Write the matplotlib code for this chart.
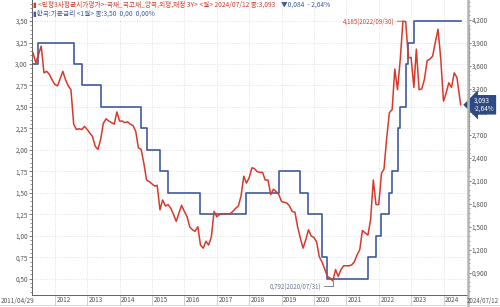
import pandas as pd
import matplotlib.pyplot as plt
import matplotlib.ticker as mticker
from matplotlib.transforms import ScaledTranslation
from matplotlib.lines import Line2D

plt.rcParams['font.family'] = ['Noto Sans CJK KR', 'DejaVu Sans']

RED = '#d63a2c'
BLUE = '#3e5b9c'
TXT = '#555555'

# 3Y KTB, month-end values 2011-04 .. 2024-06, then last print
ktb_3y = [
    3.77, 3.64, 3.75, 3.86, 3.51, 3.53, 3.49, 3.42, 3.36,
    3.34, 3.43, 3.53, 3.42, 3.34, 3.29, 2.84, 2.77, 2.78, 2.77, 2.81, 2.77,
    2.72, 2.68, 2.55, 2.51, 2.64, 2.85, 2.91, 2.88, 2.86, 2.84, 3.00, 2.88,
    2.88, 2.86, 2.87, 2.84, 2.82, 2.75, 2.53, 2.51, 2.33, 2.11, 2.09, 2.06,
    2.03, 2.04, 1.72, 1.85, 1.77, 1.79, 1.74, 1.66, 1.57, 1.68, 1.78, 1.70,
    1.63, 1.50, 1.46, 1.44, 1.50, 1.26, 1.22, 1.31, 1.26, 1.37, 1.70, 1.63,
    1.66, 1.67, 1.67, 1.67, 1.67, 1.70, 1.74, 1.77, 1.90, 2.16, 2.07, 2.14,
    2.27, 2.26, 2.22, 2.21, 2.21, 2.11, 2.11, 1.92, 1.99, 1.96, 1.92, 1.83,
    1.82, 1.81, 1.77, 1.70, 1.69, 1.50, 1.35, 1.22, 1.33, 1.46, 1.38, 1.36,
    1.30, 1.11, 1.04, 0.95, 0.85, 0.83, 0.792, 0.94, 0.85, 0.94, 0.99, 0.99,
    0.99, 1.00, 1.04, 1.13, 1.20, 1.45, 1.42, 1.39, 1.59, 2.11, 1.79, 1.79,
    2.20, 2.25, 2.66, 2.99, 3.03, 3.56, 3.29, 3.69, 4.185, 4.18, 3.71, 3.71,
    3.32, 3.82, 3.29, 3.30, 3.43, 3.67, 3.69, 3.73, 3.91, 4.08, 3.70, 3.14,
    3.25, 3.38, 3.32, 3.51, 3.45, 3.19,
]
ktb_first_month = '2011-04-30'
ktb_last_month = '2024-06-30'
last_date = '2024-07-12'
ktb_last = 3.093
ktb_change_pct = -2.64
ktb_change = -0.084

# BOK base rate (change dates on the monthly grid)
base_dates = ['2011-04-29', '2011-06-30', '2012-07-31', '2012-10-31', '2013-05-31',
              '2014-08-31', '2014-10-31', '2015-03-31', '2015-06-30', '2016-06-30',
              '2017-11-30', '2018-11-30', '2019-07-31', '2019-10-31', '2020-03-31',
              '2020-05-31', '2021-08-31', '2021-11-30', '2022-01-31', '2022-04-30',
              '2022-05-31', '2022-07-31', '2022-08-31', '2022-10-31', '2022-11-30',
              '2023-01-31', '2024-07-12']
base_rate = [3.00, 3.25, 3.00, 2.75, 2.50, 2.25, 2.00, 1.75, 1.50, 1.25,
             1.50, 1.75, 1.50, 1.25, 0.75, 0.50, 0.75, 1.00, 1.25, 1.50,
             1.75, 2.25, 2.50, 3.00, 3.25, 3.50, 3.50]

years = list(range(2012, 2025))
blue_bar_low = 2.25


def comma(v, nd):
    return f'{v:.{nd}f}'.replace('.', ',')


ktb_dates = list(pd.date_range(ktb_first_month, ktb_last_month, freq='ME')) + [pd.Timestamp(last_date)]
ktb_vals = ktb_3y + [ktb_last]
bdates = pd.to_datetime(base_dates)

fig = plt.figure(figsize=(5, 3.07), dpi=100)
ax = fig.add_axes([32 / 500, 1 - 295 / 307, (467.5 - 32) / 500, 295 / 307])
ax2 = ax.twinx()

ax.plot(bdates, base_rate, color=BLUE, lw=1.2, drawstyle='steps-post', zorder=3)
ax2.plot(ktb_dates, ktb_vals, color=RED, lw=1.1, zorder=3)

ax.set_xlim(pd.Timestamp('2011-04-18'), pd.Timestamp('2024-09-27'))
ax.set_ylim(0.31, 3.745)
ax2.set_ylim(0.608, 4.462)

# left axis
ax.yaxis.set_major_locator(mticker.MultipleLocator(0.25))
ax.yaxis.set_minor_locator(mticker.MultipleLocator(0.05))
ax.yaxis.set_major_formatter(mticker.FuncFormatter(lambda v, p: comma(v, 2)))
ax.tick_params(axis='y', which='major', length=2.5, width=0.6, color='#666666',
               labelsize=4.6, labelcolor=TXT, pad=0.5)
ax.tick_params(axis='y', which='minor', length=1.2, width=0.5, color='#666666')

# right axis
ax2.yaxis.set_major_locator(mticker.MultipleLocator(0.3))
ax2.yaxis.set_minor_locator(mticker.MultipleLocator(0.06))
ax2.yaxis.set_major_formatter(mticker.FuncFormatter(lambda v, p: comma(v, 3)))
ax2.tick_params(axis='y', which='major', length=2.5, width=0.6, color='#666666',
                labelsize=4.6, labelcolor=TXT, pad=0.5)
ax2.tick_params(axis='y', which='minor', length=1.2, width=0.5, color='#666666')

# x axis
year_ticks = [pd.Timestamp(f'{y}-01-01') for y in years]
ax.set_xticks(year_ticks)
ax.set_xticklabels([])
ax.tick_params(axis='x', length=7, width=0.6, color='#c8c8c8')
lab_tr = ax.get_xaxis_transform() + ScaledTranslation(1.5 / 100, -1.5 / 100, fig.dpi_scale_trans)
for d, y in zip(year_ticks, years):
    ax.text(d, 0, str(y), transform=lab_tr, ha='left', va='top', fontsize=4.6, color=TXT)
fig.text(1 / 500, 1 - 296.5 / 307, pd.Timestamp(base_dates[0]).strftime('%Y/%m/%d'),
         ha='left', va='top', fontsize=4.6, color=TXT)
fig.text(499 / 500, 1 - 296.5 / 307, pd.Timestamp(last_date).strftime('%Y/%m/%d'),
         ha='right', va='top', fontsize=4.4, color=TXT)

ax.grid(which='major', color='#d6d6d6', lw=0.5, ls=(0, (1.5, 2)))

for a in (ax, ax2):
    a.spines['top'].set_visible(False)
    a.spines['left'].set_color('#666666')
    a.spines['left'].set_linewidth(0.7)
    a.spines['bottom'].set_color('#666666')
    a.spines['bottom'].set_linewidth(0.7)
    a.spines['right'].set_visible(False)

# right boundary line running through the label row
fig.add_artist(Line2D([467.5 / 500, 467.5 / 500], [0, 1], color='#b4b4b4', lw=1.8))
fig.add_artist(Line2D([0, 1], [1 - 305 / 307, 1 - 305 / 307], color='#d0d0d0', lw=0.6))

# range bars on the right axis
ytr = ax2.get_yaxis_transform()
ax2.vlines(1.004, ktb_last, max(ktb_3y) * 0.985, transform=ytr, color=RED, lw=1.4, clip_on=False)
ax2.vlines(1.004, blue_bar_low, ktb_last, transform=ytr, color=BLUE, lw=1.4, clip_on=False)

# last value tag
ax2.text(1.014, ktb_last, f'{comma(ktb_last, 3)}\n{comma(ktb_change_pct, 2)}%', transform=ytr,
         ha='left', va='center', fontsize=4.6, color='white', linespacing=0.95,
         bbox=dict(boxstyle='larrow,pad=0.3', fc='#2e4a82', ec='none'), clip_on=False, zorder=5)

# max / min annotations
imax = ktb_vals.index(max(ktb_vals))
imin = ktb_vals.index(min(ktb_vals))
ax2.annotate(f'{comma(ktb_vals[imax], 3)}({ktb_dates[imax]:%Y/%m/%d})',
             xy=(ktb_dates[imax], ktb_vals[imax]), xytext=(-6, 0), textcoords='offset points',
             ha='right', va='center', fontsize=4.4, color=RED,
             arrowprops=dict(arrowstyle='-', color=RED, lw=0.6, shrinkA=0, shrinkB=0))
ax2.annotate(f'{comma(ktb_vals[imin], 3)}({ktb_dates[imin]:%Y/%m/%d})',
             xy=(ktb_dates[imin], ktb_vals[imin]), xytext=(-8, -4), textcoords='offset points',
             ha='right', va='center', fontsize=4.4, color='#66708a',
             arrowprops=dict(arrowstyle='-', color='#66708a', lw=0.6, shrinkA=0, shrinkB=0,
                             connectionstyle='angle,angleA=0,angleB=90,rad=0'))

# header lines
t1 = fig.text(33 / 500, 1 - 4.8 / 307,
              f'▮ <민평3사평균시가평가>-국채_국고채_양곡,외평,재정 3Y> <월> {pd.Timestamp(last_date):%Y/%m/%d} 종:{comma(ktb_last, 3)}',
              ha='left', va='center', fontsize=4.8, color=RED)
fig.canvas.draw()
bb = t1.get_window_extent()
fig.text((bb.x1 + 6) / 500, 1 - 4.8 / 307,
         f'▼{comma(abs(ktb_change), 3)}  {comma(ktb_change_pct, 2).replace("-", "- ")}%',
         ha='left', va='center', fontsize=4.8, color=BLUE)
fig.text(33 / 500, 1 - 14 / 307, f'▮한국:기준금리 <1월> 종:{comma(base_rate[-1], 2)}  0,00  0,00%',
         ha='left', va='center', fontsize=4.8, color=BLUE)

fig.savefig('out.png', dpi=100)
